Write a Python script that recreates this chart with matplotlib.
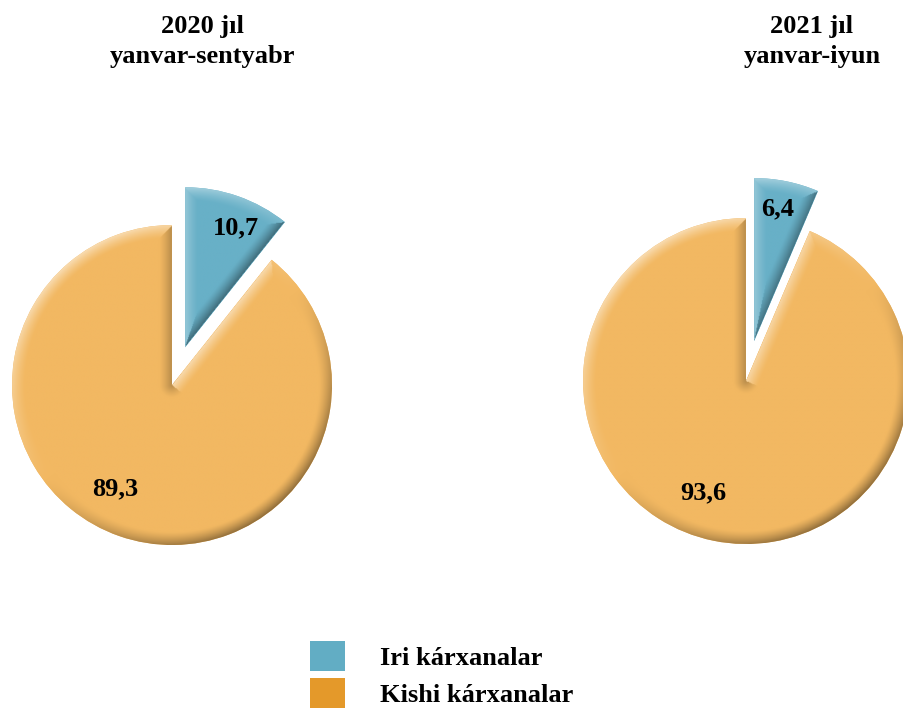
import numpy as np
import matplotlib
matplotlib.use("Agg")
import matplotlib.pyplot as plt
from matplotlib.patches import Patch
from matplotlib.colors import to_rgb

plt.rcParams["font.family"] = ["Liberation Serif", "DejaVu Serif"]
plt.rcParams["font.weight"] = "bold"

# data
categories = ["Iri kárxanalar", "Kishi kárxanalar"]
titles = [("2020 jıl", "yanvar-sentyabr"), ("2021 jıl", "yanvar-iyun")]
shares_2020 = [10.7, 89.3]
shares_2021 = [6.4, 93.6]
labels_2020 = ["10,7", "89,3"]
labels_2021 = ["6,4", "93,6"]

LEGEND_COLORS = ["#62adc4", "#e4992a"]
PIE_COLORS = ["#68b0c7", "#f2b862"]

W, H = 904, 708


def shade_wedge(ax, w, base, bevel=13.0):
    """Fake the bevelled 3D look: gradient image clipped to the wedge."""
    cx, cy = w.center
    R = w.r
    t1, t2 = np.deg2rad(w.theta1), np.deg2rad(w.theta2)
    x0, x1, y0, y1 = cx - R - 2, cx + R + 2, cy - R - 2, cy + R + 2
    xs = np.linspace(x0, x1, 420)
    ys = np.linspace(y0, y1, 420)
    X, Y = np.meshgrid(xs, ys)
    dx, dy = X - cx, Y - cy
    d = np.hypot(dx, dy)
    phi = np.arctan2(dy, dx)
    rel1 = np.mod(phi - t1, 2 * np.pi)
    rel2 = np.mod(t2 - phi, 2 * np.pi)
    d_arc = R - d
    d_e1 = d * np.sin(np.clip(rel1, 0, np.pi / 2))
    d_e2 = d * np.sin(np.clip(rel2, 0, np.pi / 2))
    light = np.array([-0.6, 0.8])
    n_arc = np.stack([np.cos(phi), np.sin(phi)])
    n1 = np.array([np.cos(t1 - np.pi / 2), np.sin(t1 - np.pi / 2)])
    n2 = np.array([np.cos(t2 + np.pi / 2), np.sin(t2 + np.pi / 2)])
    s_arc = n_arc[0] * light[0] + n_arc[1] * light[1]
    s1 = n1 @ light
    s2 = n2 @ light
    dist = np.stack([d_arc, d_e1, d_e2])
    shade = np.stack([s_arc, np.full_like(d, s1), np.full_like(d, s2)])
    idx = np.argmin(dist, axis=0)
    dmin = np.take_along_axis(dist, idx[None], 0)[0]
    smin = np.take_along_axis(shade, idx[None], 0)[0]
    f = np.clip(1 - dmin / bevel, 0, 1) ** 1.3
    k = smin * f
    rgb = np.array(to_rgb(base))[None, None, :]
    img = np.where(k[..., None] > 0,
                   rgb + (1 - rgb) * 0.5 * k[..., None],
                   rgb * (1 + 0.4 * k[..., None]))
    im = ax.imshow(np.clip(img, 0, 1), extent=(x0, x1, y0, y1), origin="lower",
                   interpolation="bilinear", zorder=2)
    im.set_clip_path(w)


fig = plt.figure(figsize=(W / 100, H / 100), dpi=100)
ax = fig.add_axes([0, 0, 1, 1])
ax.set_xlim(0, W)
ax.set_ylim(0, H)
ax.set_aspect("equal")
ax.axis("off")

# center, radius, label spots, title x (all in pixel units, y up)
pies = [
    (shares_2020, labels_2020, (172, 323), 160, [(236, 480), (115, 219)], 202),
    (shares_2021, labels_2021, (746, 327), 163, [(778, 499), (703, 215)], 812),
]

for (vals, labs, center, radius, lab_pos, tx), (t_year, t_period) in zip(pies, titles):
    # pie's explode is an absolute offset, so scale it by the radius
    wedges, _ = ax.pie(vals, colors=PIE_COLORS, startangle=90, counterclock=False,
                       explode=[0.25 * radius, 0], center=center, radius=radius,
                       wedgeprops=dict(linewidth=0))
    for w, c in zip(wedges, PIE_COLORS):
        w.set_zorder(1)
        shade_wedge(ax, w, c)
    for lab, (lx, ly) in zip(labs, lab_pos):
        ax.text(lx, ly, lab, ha="center", va="center", fontsize=19,
                fontweight="bold", color="black", zorder=5)
    ax.text(tx, H - 26, t_year, ha="center", va="center", fontsize=19, fontweight="bold")
    ax.text(tx, H - 57, t_period, ha="center", va="center", fontsize=19, fontweight="bold")

ax.set_xlim(0, W)
ax.set_ylim(0, H)

handles = [Patch(facecolor=c, edgecolor="none") for c in LEGEND_COLORS]
fig.legend(handles, categories, loc="upper left",
           bbox_to_anchor=(310 / W, 1 - 641 / H), frameon=False,
           prop=dict(family="Liberation Serif", weight="bold", size=19),
           handlelength=1.33, handleheight=1.4, handletextpad=1.33,
           labelspacing=0.24, borderpad=0, borderaxespad=0)

fig.savefig("out.png", dpi=100)
